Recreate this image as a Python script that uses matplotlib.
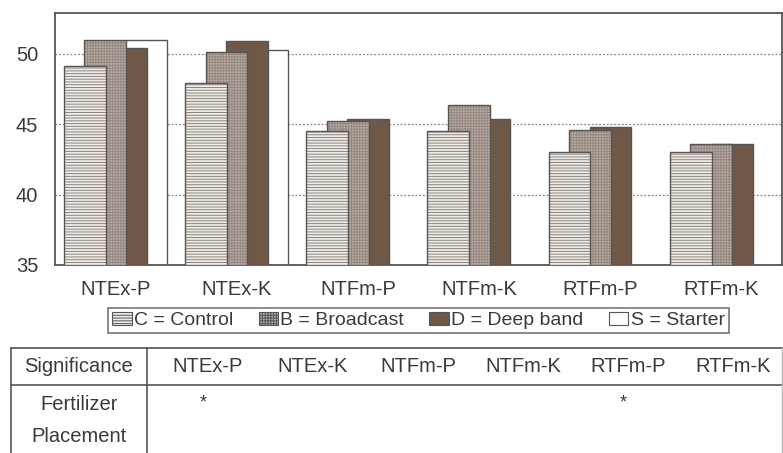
import numpy as np
import matplotlib
matplotlib.use('Agg')
import matplotlib.pyplot as plt
from matplotlib.patches import Patch

plt.rcParams['font.family'] = ['Liberation Sans', 'DejaVu Sans']
plt.rcParams['hatch.linewidth'] = 0.7

# values
categories = ['NTEx-P', 'NTEx-K', 'NTFm-P', 'NTFm-K', 'RTFm-P', 'RTFm-K']
control = [49.1, 47.9, 44.5, 44.5, 43.0, 43.0]
broadcast = [51.0, 50.1, 45.2, 46.4, 44.6, 43.6]
deep_band = [50.4, 50.9, 45.4, 45.4, 44.8, 43.6]
starter = [51.0, 50.3, np.nan, np.nan, np.nan, np.nan]

legend_labels = ['C = Control', 'B = Broadcast', 'D = Deep band', 'S = Starter']
table_corner = 'Significance'
row_labels = ['Fertilizer', 'Placement']
fert_sig = ['*', '', '', '', '*', '']
placement_sig = ['', '', '', '', '', '']

txt = '#3a3a3a'
edge = '#555555'
fs = 14.5
W, H = 783, 453

fig = plt.figure(figsize=(7.83, 4.53), dpi=100)
ax = fig.add_axes([55 / W, 1 - 265 / H, (782 - 55) / W, (265 - 13) / H])

x = np.arange(len(categories))
bw = 0.346
step = 0.169
c_face, c_hatch = '#efebe7', '#8a827c'
b_face, b_hatch = '#b8aca4', '#968880'
d_face = '#6f5848'
# (values, face, hatch colour, hatch, offset index, zorder) - back to front
series = [
    (starter, 'white', edge, None, 1.5, 2),
    (deep_band, d_face, d_face, None, 0.5, 3),
    (broadcast, b_face, b_hatch, '++++++', -0.5, 4),
    (control, c_face, c_hatch, '------', -1.5, 5),
]
for vals, face, hcol, hatch, k, z in series:
    v = np.array(vals, dtype=float)
    m = ~np.isnan(v)
    ax.bar(x[m] + k * step, v[m], bw, color=face, edgecolor=hcol, hatch=hatch,
           linewidth=0, zorder=z)
    ax.bar(x[m] + k * step, v[m], bw, fill=False, edgecolor=edge,
           linewidth=1.0, zorder=z + 0.1)

ax.set_xlim(-0.5, len(categories) - 0.5)
ax.set_ylim(35, 52.9)
ax.set_yticks([35, 40, 45, 50])
ax.set_xticks(x)
ax.set_xticklabels(categories)
ax.tick_params(axis='both', length=0, labelsize=fs, colors=txt)
ax.tick_params(axis='y', pad=12)
ax.tick_params(axis='x', pad=11)
ax.yaxis.grid(True, linestyle=(0, (1.5, 1.5)), color='#888888', linewidth=0.9, zorder=0)
ax.set_axisbelow(True)
for sp in ax.spines.values():
    sp.set_color(edge)
    sp.set_linewidth(1.3)

handles = [
    Patch(facecolor=c_face, edgecolor=edge, hatch='------', linewidth=0.8),
    Patch(facecolor=b_face, edgecolor=edge, hatch='++++++', linewidth=0.8),
    Patch(facecolor=d_face, edgecolor=edge, linewidth=0.8),
    Patch(facecolor='white', edgecolor=edge, linewidth=0.8),
]
leg = fig.legend(handles, legend_labels, loc='center', ncol=4,
                 bbox_to_anchor=(418.5 / W, 1 - 320.5 / H), fontsize=14,
                 frameon=True, fancybox=False, edgecolor=edge,
                 handlelength=1.0, handleheight=0.65, handletextpad=0.12,
                 columnspacing=1.3, borderpad=0.2, labelcolor=txt)
leg.get_frame().set_linewidth(1.2)

# significance table in pixel coordinates
tab = fig.add_axes([0, 0, 1, 1], zorder=-1)
tab.set_xlim(0, W)
tab.set_ylim(H, 0)
tab.axis('off')
lc = '#555555'
tab.plot([11, 782], [348, 348], color=lc, lw=1.2)
tab.plot([11, 782], [385, 385], color=lc, lw=1.2)
tab.plot([11, 11], [348, H], color=lc, lw=1.2)
tab.plot([147, 147], [348, H], color=lc, lw=1.2)
tab.plot([782, 782], [348, H], color='#bbbbbb', lw=1.0)

col_x = [208, 313, 418, 523, 628, 733]
tab.text(79, 367, table_corner, ha='center', va='center', fontsize=fs, color=txt)
for cx, name in zip(col_x, categories):
    tab.text(cx, 367, name, ha='center', va='center', fontsize=fs, color=txt)
tab.text(79, 405, row_labels[0], ha='center', va='center', fontsize=fs, color=txt)
tab.text(79, 436, row_labels[1], ha='center', va='center', fontsize=fs, color=txt)
for cx, s in zip(col_x, fert_sig):
    if s:
        tab.text(cx - 5, 403, s, ha='center', va='center', fontsize=13, color=txt)
for cx, s in zip(col_x, placement_sig):
    if s:
        tab.text(cx - 5, 434, s, ha='center', va='center', fontsize=13, color=txt)

fig.savefig('out.png', dpi=100)
